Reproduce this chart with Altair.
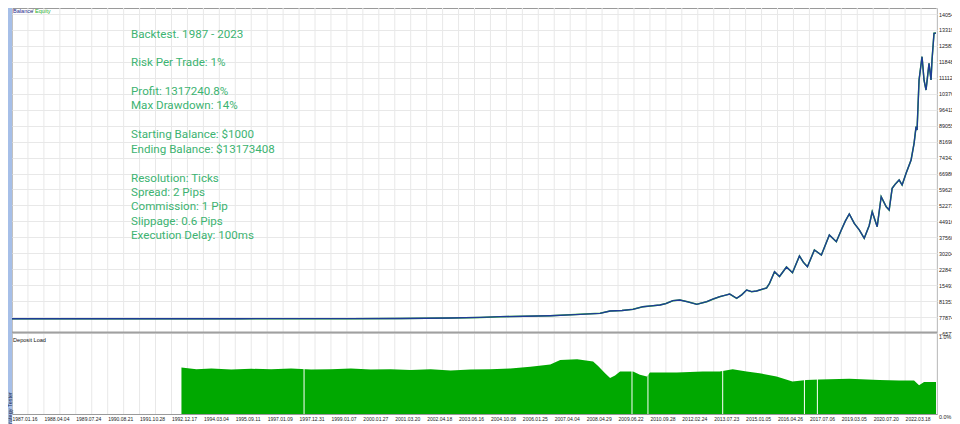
import altair as alt
import pandas as pd

# ---------------- data ----------------
tick_labels = ["1987.01.16", "1988.04.04", "1989.07.24", "1990.08.21", "1991.10.28",
               "1992.12.17", "1994.03.04", "1995.09.11", "1997.01.09", "1997.12.31",
               "1999.01.07", "2000.01.27", "2001.03.20", "2002.04.18", "2003.06.16",
               "2004.10.08", "2006.01.25", "2007.04.04", "2008.04.29", "2009.06.22",
               "2010.09.28", "2012.02.24", "2013.07.23", "2015.01.05", "2016.04.26",
               "2017.07.06", "2019.03.05", "2020.07.20", "2022.03.18"]

y_ticks = [14054974, 13319337, 12583700, 11848064, 11112427, 10376790, 9641153,
           8905516, 8169879, 7434243, 6698606, 5962969, 5227332, 4491695, 3756059,
           3020422, 2284785, 1549148, 813511, 77874, -657762]

bal_idx = [0, 170, 230, 290, 340, 390, 440, 470, 490, 515, 540, 565, 590, 600, 612,
           623, 633, 641, 650, 656, 663, 670, 678, 687, 697, 703, 710, 716, 720, 727,
           732, 737, 742, 747, 752, 757, 760, 765, 770, 777, 783, 790, 794, 798, 805,
           812, 820, 827, 832, 836, 840, 845, 850, 855, 860, 863, 868, 872, 877, 880,
           883, 886, 890, 893, 897, 902, 905, 907, 908, 910, 913, 915, 917, 920, 922,
           923, 925, 927]
bal_val = [1000, 1000, 1600, 2800, 5200, 11000, 35000, 60000, 94000, 115000, 140000,
           190000, 250000, 356000, 380000, 435000, 555000, 590000, 634000, 700000,
           832000, 864000, 780000, 666000, 786000, 900000, 1016000, 1090000, 1141000,
           943000, 1100000, 1325000, 1250000, 1279000, 1350000, 1418000, 1635000,
           2170000, 1948000, 2386000, 2123000, 2894000, 2600000, 2400000, 3170000,
           2940000, 3862000, 3553000, 4093000, 4500000, 4831000, 4400000, 4100000,
           3710000, 4300000, 4937000, 4245000, 5629000, 5167000, 5015000, 6016000,
           6200000, 6399000, 6168000, 6708000, 7321000, 8091000, 8857000, 8705000,
           11011000, 12086000, 11000000, 10550000, 11781000, 11011000, 11934000,
           13165000, 13173408]

load_idx = [170, 185, 200, 220, 240, 260, 280, 300, 320, 340, 360, 380, 400, 420, 440,
            460, 480, 500, 520, 540, 550, 567, 583, 588, 595, 600, 605, 610, 623, 630,
            637, 640, 667, 693, 710, 723, 737, 750, 767, 783, 797, 810, 840, 870, 890,
            905, 910, 915, 927]
load_val = [0.58, 0.56, 0.57, 0.555, 0.565, 0.56, 0.57, 0.555, 0.56, 0.57, 0.555, 0.56,
            0.55, 0.56, 0.545, 0.555, 0.56, 0.57, 0.59, 0.62, 0.675, 0.685, 0.655, 0.60,
            0.51, 0.45, 0.48, 0.53, 0.53, 0.49, 0.47, 0.52, 0.52, 0.53, 0.53, 0.56,
            0.53, 0.51, 0.47, 0.405, 0.425, 0.43, 0.44, 0.425, 0.42, 0.42, 0.36, 0.40,
            0.40]

gap_idx = [293, 622, 638, 713, 795, 808]

info_lines = ["Backtest. 1987 - 2023", "", "Risk Per Trade: 1%", "",
              "Profit: 1317240.8%", "Max Drawdown: 14%", "",
              "Starting Balance: $1000", "Ending Balance: $13173408", "",
              "Resolution: Ticks", "Spread: 2 Pips", "Commission: 1 Pip",
              "Slippage: 0.6 Pips", "Execution Delay: 100ms"]

legend_parts = ["Balance", "/", "Equity"]

# ---------------- layout ----------------
W = 925          # plot width
H = 406          # plot height (both panels)
SEP = 324.5      # separator between balance and deposit-load panels
XMAX = 928
grid_vals = list(range(0, XMAX + 1, 16))
GRID = "#E8E8E8"
FONT = "Liberation Sans"
BLUE = "#1E3C96"
EQ_GREEN = "#2DB02D"

x_scale = alt.Scale(domain=[0, XMAX], nice=False, zero=False)
js_labels = "[" + ",".join(f"'{t}'" for t in tick_labels) + "]"
x_label_expr = (f"datum.value % 32 === 0 && datum.value / 32 < {len(tick_labels)} "
                f"? {js_labels}[datum.value / 32] : ''")

bal_df = pd.DataFrame({"idx": bal_idx, "balance": bal_val})
load_df = pd.DataFrame({"idx": load_idx, "load": load_val})
gap_df = pd.DataFrame({"idx": gap_idx})
grid_df = pd.DataFrame({"idx": grid_vals})

x_axis = alt.Axis(values=grid_vals, tickCount=500, labelExpr=x_label_expr,
                  labelAlign="left", labelBaseline="top", labelFontSize=5,
                  labelFont=FONT, labelColor="#222", labelOverlap=False,
                  labelFlush=False, labelBound=False, labelPadding=2,
                  ticks=False, domain=False, grid=False, title=None)
x_enc = alt.X("idx:Q", scale=x_scale, axis=x_axis)

bal_scale = alt.Scale(domain=[-657762, 14054974], range=[325, 6], nice=False, zero=False)
y_bal = alt.Y("balance:Q", scale=bal_scale,
              axis=alt.Axis(orient="right", values=y_ticks, tickCount=500, format="d",
                            grid=True, gridColor=GRID, ticks=False, domain=False,
                            title=None, labelFontSize=5.4, labelFont=FONT,
                            labelColor="#222", labelPadding=1.5, labelOverlap=False,
                            labelFlush=False, labelBound=False))
y_bal_noaxis = alt.Y("balance:Q", scale=bal_scale, axis=None)

y_load = alt.Y("load:Q", scale=alt.Scale(domain=[0, 1], range=[H, H - 80], nice=False),
               axis=alt.Axis(orient="right", values=[0, 1], tickCount=10,
                             labelExpr="format(datum.value, '.1f') + '%'",
                             labelBaseline="top", labelFontSize=5.4, labelFont=FONT,
                             labelColor="#222", labelPadding=1.5, grid=False,
                             ticks=False, domain=False, title=None, labelFlush=False,
                             labelOverlap=False))

# ---------------- marks ----------------
vgrid = alt.Chart(grid_df).mark_rule(color=GRID, strokeWidth=1).encode(
    x=x_enc, y=alt.value(0), y2=alt.value(H))

strip = alt.Chart(pd.DataFrame({"a": [0]})).mark_rect(color="#A6BFE8").encode(
    x=alt.value(-4), x2=alt.value(0), y=alt.value(-1), y2=alt.value(H + 12))
strip_text = alt.Chart(pd.DataFrame({"t": ["Strategy Tester"]})).mark_text(
    align="left", baseline="middle", angle=270, fontSize=5.5, font=FONT,
    color="#1A2A4A"
).encode(x=alt.value(-2), y=alt.value(H + 15), text="t:N")

area = alt.Chart(load_df).mark_area(color="#00A800", interpolate="linear").encode(
    x=x_enc, y=y_load)
gaps = alt.Chart(gap_df).mark_rule(color="#FFFFFF", strokeWidth=1).encode(
    x=x_enc, y=alt.value(SEP + 2), y2=alt.value(H))

equity = alt.Chart(bal_df).mark_line(color=EQ_GREEN, strokeWidth=1.5).encode(
    x=x_enc, y=y_bal)
balance = alt.Chart(bal_df).mark_line(color=BLUE, strokeWidth=1.35).encode(
    x=x_enc, y=y_bal_noaxis)

separator = alt.Chart(pd.DataFrame({"a": [0]})).mark_rule(
    color="#A0A0A0", strokeWidth=2).encode(
    x=alt.value(0), x2=alt.value(W), y=alt.value(SEP))

# info text, one mark per paragraph (blank lines separate paragraphs)
blocks = []
start = 0
for i, line in enumerate(info_lines + [""]):
    if line == "":
        if i > start:
            blocks.append((start, info_lines[start:i]))
        start = i + 1
info_marks = []
for s, lines in blocks:
    info_marks.append(
        alt.Chart(pd.DataFrame({"t": ["\n".join(lines)]})).mark_text(
            align="left", baseline="top", lineBreak="\n", lineHeight=14.4,
            fontSize=11.6, font="Roboto", color="#3CB371"
        ).encode(x=alt.value(119), y=alt.value(20.5 + 14.4 * s), text="t:N"))


def small_text(txt, color, xpos, ypos):
    return alt.Chart(pd.DataFrame({"t": [txt]})).mark_text(
        align="left", baseline="middle", fontSize=5.6, font=FONT, color=color
    ).encode(x=alt.value(xpos), y=alt.value(ypos), text="t:N")


leg_b = small_text(legend_parts[0], "#1C2A8C", 1, 3)
leg_s = small_text(legend_parts[1], "#666666", 20, 3)
leg_e = small_text(legend_parts[2], EQ_GREEN, 23, 3)
dep_label = small_text("Deposit Load", "#111111", 1, SEP + 7)

chart = alt.layer(
    vgrid, area, gaps, equity, balance, separator, strip, strip_text,
    *info_marks, leg_b, leg_s, leg_e, dep_label
).resolve_scale(y="independent").properties(
    width=W, height=H,
    autosize=alt.AutoSizeParams(type="none"),
    padding={"left": 4, "top": 0, "right": 15, "bottom": 10},
    background="white",
).configure_view(stroke="#9A9A9A", strokeWidth=1)

chart.save("out.html", embed_options={"renderer": "svg", "actions": False})
